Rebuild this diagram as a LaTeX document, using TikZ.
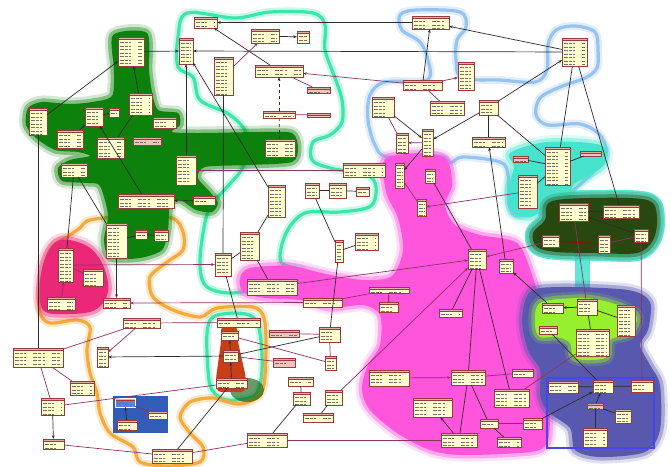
\documentclass[tikz,border=0pt]{standalone}
\usetikzlibrary{arrows.meta}
\definecolor{nodeF}{RGB}{255,255,208}
\definecolor{nodeB}{RGB}{150,60,60}
\definecolor{hdrC}{RGB}{225,175,165}
\definecolor{txtC}{RGB}{120,110,100}
\definecolor{lblue}{RGB}{150,195,240}
\definecolor{cyanO}{RGB}{60,230,170}
\definecolor{orangeO}{RGB}{245,170,60}
\definecolor{greenF}{RGB}{12,130,12}
\definecolor{pinkF}{RGB}{235,40,120}
\definecolor{magF}{RGB}{255,85,220}
\definecolor{turqF}{RGB}{70,228,205}
\definecolor{dkgF}{RGB}{40,72,15}
\definecolor{slateF}{RGB}{88,88,175}
\definecolor{limeF}{RGB}{150,240,45}
\definecolor{bluRF}{RGB}{50,92,182}
\definecolor{towerF}{RGB}{200,62,22}
\definecolor{rectO}{RGB}{70,70,235}
\definecolor{conD}{RGB}{50,40,45}
\definecolor{conP}{RGB}{140,50,100}
\tikzset{
  cls/.style={draw=nodeB, fill=nodeF, line width=0.6pt, inner sep=0pt, outer sep=0pt, rectangle,
    path picture={
      \fill[hdrC] (path picture bounding box.north west) rectangle ([yshift=-2.5pt]path picture bounding box.north east);
      \draw[nodeB, line width=0.4pt] ([yshift=-2.5pt]path picture bounding box.north west) -- ([yshift=-2.5pt]path picture bounding box.north east);
      \foreach \k in {5.5,9,...,80} \draw[txtC, line width=0.6pt, dash pattern=on 4pt off 1pt on 3pt off 1.5pt on 2pt off 7pt] ([xshift=1.5pt,yshift=-\k pt]path picture bounding box.north west) -- ([xshift=-2pt,yshift=-\k pt]path picture bounding box.north east);
    }},
  pcls/.style={cls, fill={rgb,255:red,242;green,195;blue,190}},
  bcls/.style={cls, fill={rgb,255:red,95;green,130;blue,210}, draw=white},
  con/.style={draw=conD, line width=0.7pt},
  conp/.style={draw=conP, line width=0.7pt},
  arr/.style={-{Stealth[length=3.8pt,width=2.8pt]}},
  blob/.style={fill=#1,
    preaction={draw=#1, line width=13pt, draw opacity=.18, line join=round},
    preaction={draw=#1, line width=7pt, draw opacity=.4, line join=round}},
  ring/.style={draw=#1, line width=3.2pt, preaction={draw=#1, line width=8pt, draw opacity=.28, line join=round}},
}
\newcommand\mkcls[6][cls]{\pgfmathsetmacro\cw{#5-#3}\pgfmathsetmacro\ch{#6-#4}\node[#1,minimum width=\cw pt,minimum height=\ch pt] (#2) at ({(#3+#5)/2},{(#4+#6)/2}) {};}
\begin{document}
\begin{tikzpicture}[x=1pt,y=-1pt]
\useasboundingbox (0,0) rectangle (671,466);
\fill[white] (0,0) rectangle (671,466);

% ---------- outlines ----------
\path[ring=lblue] plot[smooth cycle, tension=0.55] coordinates {(400,15) (417,10) (460,12) (466,27) (457,40) (456,60) (462,78) (500,80) (535,82) (547,70) (548,45) (556,30) (575,26) (595,32) (598,50) (597,68) (585,78) (560,87) (540,98) (536,115) (548,125) (580,124) (600,135) (606,155) (590,175) (560,200) (520,216) (509,205) (508,175) (500,162) (463,157) (450,163) (440,156) (388,157) (375,145) (368,120) (370,95) (385,82) (427,80) (428,60) (420,42) (402,30)};
\path[ring=cyanO] plot[smooth cycle, tension=0.55] coordinates {(187,13) (235,18) (270,12) (313,13) (325,25) (325,50) (335,78) (342,100) (342,122) (330,135) (313,142) (312,160) (330,168) (372,178) (372,205) (340,212) (305,213) (286,233) (281,262) (305,272) (270,285) (233,293) (207,287) (200,267) (203,233) (210,207) (227,187) (243,167) (247,140) (243,127) (227,113) (200,100) (193,77) (178,67) (178,37)};
\path[ring=cyanO] plot[smooth cycle, tension=0.55] coordinates {(213,317) (207,333) (208,370) (212,390) (227,400) (255,395) (262,370) (260,333) (253,317) (235,313)};
\path[ring=orangeO] plot[smooth cycle, tension=0.5] coordinates {(90,220) (130,216) (172,218) (183,232) (183,250) (167,262) (150,277) (153,297) (173,310) (200,317) (217,308) (253,307) (264,318) (266,350) (262,392) (240,404) (213,398) (190,402) (180,417) (190,433) (203,447) (200,462) (167,466) (140,462) (133,447) (110,433) (100,413) (97,393) (90,373) (87,350) (90,327) (77,320) (50,323) (40,313) (40,287) (50,250) (67,237) (80,228)};

% ---------- filled regions ----------
\path[blob=greenF] plot[smooth cycle, tension=0.45] coordinates {(113,35) (147,33) (149,70) (152,92) (158,110) (178,113) (180,125) (172,132) (200,133) (260,132) (292,133) (298,148) (292,162) (250,165) (205,167) (198,178) (210,192) (218,203) (212,212) (196,210) (180,200) (170,205) (168,230) (162,250) (140,258) (110,258) (104,240) (108,215) (100,186) (88,183) (62,181) (58,168) (70,160) (90,156) (78,152) (55,150) (36,138) (26,125) (28,108) (42,102) (70,104) (92,102) (112,96) (114,70)};
\path[blob=pinkF] plot[smooth cycle, tension=0.6] coordinates {(60,240) (87,246) (103,265) (108,292) (95,310) (67,314) (43,310) (40,283) (46,256)};
\path[blob=magF] plot[smooth cycle, tension=0.5] coordinates {(388,157) (425,153) (447,160) (452,185) (445,205) (455,225) (480,235) (517,243) (532,275) (543,310) (556,340) (548,380) (550,415) (547,443) (530,452) (463,455) (430,450) (397,433) (370,410) (362,390) (367,367) (380,345) (380,315) (363,305) (330,308) (300,300) (265,298) (243,292) (240,278) (250,268) (290,266) (330,275) (365,280) (392,276) (403,250) (398,218) (387,195) (383,170)};
\path[blob=turqF] plot[smooth cycle, tension=0.55] coordinates {(510,153) (547,142) (600,145) (605,163) (590,175) (573,185) (570,198) (547,208) (530,217) (512,212) (508,190) (514,167)};
\path[fill=turqF, draw=turqF, line width=16pt, line join=round, opacity=.85] plot[smooth cycle, tension=0.55] coordinates {(550,202) (590,198) (647,200) (657,217) (653,240) (637,253) (597,253) (557,252) (537,247) (533,233) (545,220)};
\path[fill=turqF, opacity=.85] (575,255) rectangle (590,292);
\path[blob=dkgF] plot[smooth cycle, tension=0.55] coordinates {(550,202) (590,198) (647,200) (657,217) (653,240) (637,253) (597,253) (557,252) (537,247) (533,233) (545,220)};
\path[blob=slateF] plot[smooth cycle, tension=0.5] coordinates {(530,292) (560,287) (628,290) (650,302) (648,330) (640,345) (650,365) (660,385) (660,430) (645,452) (600,457) (575,450) (570,428) (548,412) (540,395) (540,370) (528,350) (522,320)};
\path[blob=limeF] plot[smooth cycle, tension=0.55] coordinates {(540,303) (577,298) (600,300) (623,307) (637,317) (630,333) (610,340) (607,357) (587,360) (573,357) (570,343) (557,337) (540,337) (535,325)};
\draw[rectO, line width=1.8pt] (547,378) rectangle (654,448);
\fill[bluRF] (113,396) rectangle (168,433);
\fill[greenF!70!black, opacity=.6] (247,390) ellipse [x radius=17pt, y radius=12pt];
\fill[towerF, rounded corners=4pt] (217,392) -- (216,378) -- (221,342) -- (221,326) -- (237,326) -- (238,342) -- (246,378) -- (245,392) -- cycle;

% ---------- nodes ----------
\mkcls{a1}{194}{17}{217}{28}
\mkcls{a2}{251}{29}{279}{43}
\mkcls{a3}{297}{31}{309}{43}
\mkcls{a4}{179}{38}{193}{64}
\mkcls{a5}{118}{37}{144}{66}
\mkcls{a6}{214}{57}{233}{95}
\mkcls{a7}{255}{65}{303}{77}
\mkcls[pcls]{a8}{307}{87}{330}{93}
\mkcls{a9}{263}{111}{295}{118}
\mkcls[pcls]{a10}{307}{113}{330}{117}
\mkcls{a11}{29}{108}{47}{135}
\mkcls{a12}{85}{107}{103}{126}
\mkcls{a13}{109}{108}{119}{117}
\mkcls{a14}{129}{93}{152}{115}
\mkcls{a15}{153}{117}{176}{128}
\mkcls{a16}{57}{130}{83}{148}
\mkcls{a17}{97}{137}{124}{158}
\mkcls[pcls]{a18}{133}{137}{161}{145}
\mkcls{a19}{265}{139}{295}{157}
\mkcls{a20}{61}{163}{87}{177}
\mkcls{a21}{176}{155}{196}{185}
\mkcls{a22}{118}{194}{174}{208}
\mkcls{a23}{193}{196}{215}{205}
\mkcls{a24}{268}{185}{285}{217}
\mkcls{a25}{305}{183}{319}{198}
\mkcls{a26}{329}{183}{346}{198}
\mkcls{a27}{106}{223}{127}{258}
\mkcls{a28}{135}{230}{147}{239}
\mkcls{a29}{154}{230}{168}{241}
\mkcls{a30}{240}{232}{259}{260}
\mkcls{b1}{412}{16}{449}{29}
\mkcls{b2}{562}{38}{587}{66}
\mkcls{b3}{458}{62}{474}{90}
\mkcls{b4}{403}{80}{442}{90}
\mkcls{b5}{430}{101}{464}{115}
\mkcls{b6}{372}{97}{394}{117}
\mkcls{b7}{479}{100}{498}{115}
\mkcls{b8}{396}{133}{408}{153}
\mkcls{b9}{422}{129}{433}{156}
\mkcls{b10}{472}{137}{505}{147}
\mkcls{b11}{343}{163}{385}{177}
\mkcls{b12}{395}{163}{404}{188}
\mkcls{b13}{425}{169}{435}{183}
\mkcls{b14}{417}{199}{426}{216}
\mkcls{b15}{545}{147}{570}{185}
\mkcls[pcls]{b16}{513}{156}{528}{162}
\mkcls[pcls]{b17}{580}{151}{601}{156}
\mkcls{b18}{518}{175}{537}{208}
\mkcls{b19}{356}{187}{369}{196}
\mkcls{b20}{559}{203}{588}{221}
\mkcls{b21}{603}{205}{639}{218}
\mkcls{b22}{634}{229}{648}{242}
\mkcls{b23}{355}{233}{378}{250}
\mkcls{c1}{58}{248}{73}{282}
\mkcls{c2}{83}{269}{103}{286}
\mkcls{c3}{47}{297}{75}{310}
\mkcls{c4}{103}{298}{130}{308}
\mkcls{c5}{215}{253}{231}{276}
\mkcls{c6}{247}{279}{297}{295}
\mkcls{c7}{303}{298}{342}{307}
\mkcls{c8}{123}{318}{160}{328}
\mkcls{c9}{217}{318}{260}{327}
\mkcls{c10}{221}{331}{238}{340}
\mkcls{c11}{223}{350}{238}{362}
\mkcls{c12}{216}{378}{247}{388}
\mkcls{c13}{13}{348}{63}{367}
\mkcls{c14}{97}{347}{108}{367}
\mkcls{c15}{70}{381}{94}{395}
\mkcls{c16}{41}{398}{64}{415}
\mkcls[bcls]{c17}{115}{398}{135}{407}
\mkcls{c18}{117}{420}{137}{430}
\mkcls{c19}{148}{411}{167}{419}
\mkcls{c20}{43}{439}{64}{449}
\mkcls{c21}{152}{449}{192}{463}
\mkcls{c22}{247}{433}{287}{447}
\mkcls[pcls]{c23}{269}{330}{299}{337}
\mkcls{c24}{319}{327}{340}{342}
\mkcls[pcls]{c25}{273}{358}{295}{367}
\mkcls{c26}{325}{356}{336}{370}
\mkcls{c27}{288}{377}{313}{386}
\mkcls{c28}{293}{392}{310}{405}
\mkcls{c29}{303}{413}{333}{422}
\mkcls{c30}{325}{390}{342}{405}
\mkcls{d1}{335}{240}{343}{262}
\mkcls{d2}{468}{249}{486}{269}
\mkcls{d3}{499}{259}{513}{273}
\mkcls{d4}{369}{287}{409}{293}
\mkcls{d5}{379}{302}{398}{312}
\mkcls{d6}{439}{309}{462}{317}
\mkcls{d7}{369}{370}{409}{386}
\mkcls{d8}{451}{370}{485}{385}
\mkcls{d9}{512}{369}{533}{377}
\mkcls{d10}{494}{389}{529}{407}
\mkcls{d11}{413}{398}{452}{417}
\mkcls{d12}{480}{419}{498}{428}
\mkcls{d13}{523}{418}{542}{429}
\mkcls{d14}{441}{433}{477}{447}
\mkcls{d15}{497}{437}{521}{447}
\mkcls{d16}{542}{235}{559}{247}
\mkcls{d17}{598}{235}{610}{253}
\mkcls{d18}{542}{303}{563}{313}
\mkcls{d19}{577}{299}{597}{315}
\mkcls{d20}{617}{305}{635}{336}
\mkcls{d21}{539}{326}{557}{334}
\mkcls{d22}{576}{329}{609}{356}
\mkcls{d23}{548}{381}{578}{393}
\mkcls{d24}{593}{380}{613}{393}
\mkcls{d25}{631}{380}{653}{392}
\mkcls[pcls]{d26}{587}{403}{603}{409}
\mkcls{d27}{615}{409}{631}{423}
\mkcls{d28}{583}{428}{607}{447}

% ---------- connectors ----------
\draw[con,arr] (b1) -- (a1);
\draw[con,arr] (b2) -- (a4);
\draw[con,arr] (a5) -- (a4);
\draw[con,arr] (a7) -- (a1);
\draw[con,arr] (a2) -- (a3);
\draw[conp,arr] (a6) -- (a2);
\draw[conp] (a7) -- (a8);
\draw[conp,arr] (b4) -- (a7);
\draw[con,dashed,arr] (a9) -- (a7);
\draw[con,dashed] (a19) -- (a9);
\draw[conp] (a9) -- (a10);
\draw[con] (c5) -- (a6);
\draw[con,arr] (a14) -- (a5);
\draw[con,arr] (a11) -- (a5);
\draw[con] (a11) -- (c13);
\draw[con] (a12) -- (a13);
\draw[con] (a14) -- (a17);
\draw[con,arr] (a22) -- (a12);
\draw[con,arr] (a16) -- (a12);
\draw[con,arr] (a21) -- (a4);
\draw[conp] (a21) -- (b11);
\draw[con,arr] (a24) -- (a4);
\draw[con] (a24) -- (a30);
\draw[con] (a20) -- (c1);
\draw[con] (a20) -- (a27);
\draw[con,arr] (a23) -- (a22);
\draw[con] (a25) -- (a26);
\draw[con] (a26) -- (b19);
\draw[con] (a25) -- (d1);
\draw[con] (d1) -- (c24);
\draw[con] (d1) -- (b23);
\draw[con,arr] (b4) -- (b1);
\draw[con,arr] (b2) -- (b1);
\draw[conp,arr] (b4) -- (b3);
\draw[conp] (b4) -- (b5);
\draw[con,arr] (b6) -- (b9);
\draw[conp] (b6) -- (b8);
\draw[conp,arr] (b9) -- (b8);
\draw[con,arr] (b7) -- (b2);
\draw[con,arr] (b7) -- (b9);
\draw[con,arr] (b9) -- (b12);
\draw[con] (b10) -- (b7);
\draw[con,arr] (d3) -- (b10);
\draw[con] (b7) -- (b15);
\draw[con] (b15) -- (b18);
\draw[con] (b16) -- (b15);
\draw[con] (b15) -- (b17);
\draw[con] (b2) -- (b15);
\draw[con] (b2) -- (b21);
\draw[conp,arr] (b18) -- (b14);
\draw[conp] (b12) -- (b14);
\draw[con] (b13) -- (d2);
\draw[con,arr] (b22) -- (b20);
\draw[con] (b20) -- (b21);
\draw[conp] (b20) -- (d19);
\draw[conp] (b22) -- (d25);
\draw[conp,arr] (d16) -- (d2);
\draw[red!70!black, line width=0.7pt] (d16) -- (d17);
\draw[conp] (d17) -- (b22);
\draw[conp,arr] (c1) -- (c5);
\draw[conp] (c1) -- (c2);
\draw[conp,arr] (c3) -- (c1);
\draw[con,arr] (a27) -- (c4);
\draw[conp,arr] (c7) -- (c4);
\draw[con] (c5) -- (a30);
\draw[con] (c5) -- (c9);
\draw[con] (a30) -- (c6);
\draw[conp] (c8) -- (c9);
\draw[conp] (c13) -- (c8);
\draw[conp,arr] (c8) -- (c14);
\draw[con,arr] (c11) -- (c14);
\draw[conp] (c13) -- (c15);
\draw[conp] (c13) -- (c16);
\draw[conp] (c16) -- (c12);
\draw[con,arr] (c18) -- (c17);
\draw[conp] (c17) -- (c19);
\draw[con,arr] (c16) -- (c20);
\draw[conp] (c20) -- (c21);
\draw[con] (c21) -- (c12);
\draw[conp] (c21) -- (c22);
\draw[conp] (c22) -- (d14);
\draw[conp] (c10) -- (c26);
\draw[con] (c11) -- (c24);
\draw[conp] (c11) -- (c25);
\draw[conp] (c23) -- (c24);
\draw[conp] (c24) -- (c26);
\draw[con] (c22) -- (c28);
\draw[con] (c27) -- (c28);
\draw[con] (c29) -- (c30);
\draw[con] (a27) -- (a28);
\draw[con] (a28) -- (a29);
\draw[con,arr] (c11) -- (c10);
\draw[con,arr] (c12) -- (c11);
\draw[conp,arr] (c6) -- (d2);
\draw[conp] (c7) -- (d4);
\draw[con] (d4) -- (d5);
\draw[con] (d2) -- (d6);
\draw[con] (d2) -- (d8);
\draw[con] (d2) -- (d10);
\draw[conp,arr] (c30) -- (d2);
\draw[conp,arr] (d7) -- (d8);
\draw[conp] (d8) -- (d9);
\draw[con] (d8) -- (d14);
\draw[con] (d8) -- (d12);
\draw[con,arr] (d14) -- (d11);
\draw[conp] (d12) -- (d13);
\draw[con] (d12) -- (d15);
\draw[con,arr] (d18) -- (d3);
\draw[con,arr] (d19) -- (d18);
\draw[con] (d19) -- (d20);
\draw[con] (d19) -- (d22);
\draw[con] (d21) -- (d24);
\draw[con] (d23) -- (d24);
\draw[con] (d24) -- (d25);
\draw[con,arr] (d13) -- (d24);
\draw[con,arr] (d26) -- (d24);
\draw[con] (d28) -- (d26);
\draw[con] (d27) -- (d26);
\draw[conp] (d10) -- (d22);
\end{tikzpicture}
\end{document}
